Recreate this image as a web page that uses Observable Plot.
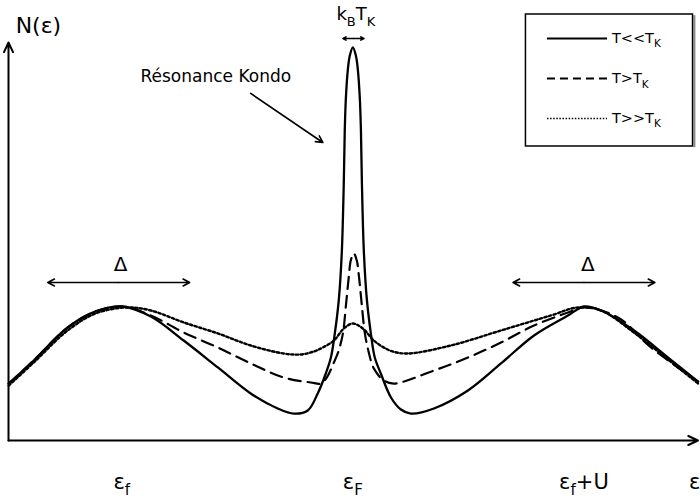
<!DOCTYPE html>
<html><head><meta charset="utf-8">
<script src="https://cdn.jsdelivr.net/npm/d3@7"></script>
<script src="https://cdn.jsdelivr.net/npm/@observablehq/plot@0.6"></script>
<style>body{margin:0;background:#fff}</style>
</head><body><div id="chart"></div>
<script>
// ---- data (energy in units where eps_f = -1, eps_F = 0, eps_f+U = 1) ----
const solidX = [-1.489,-1.381,-1.234,-1.113,-0.996,-0.874,-0.732,-0.584,-0.442,-0.325,-0.255,-0.195,-0.152,-0.117,-0.095,-0.078,-0.061,-0.048,-0.039,-0.035,-0.030,-0.022,-0.013,0,
  0.013,0.022,0.030,0.035,0.039,0.048,0.061,0.078,0.095,0.121,0.165,0.208,0.251,0.351,0.498,0.641,0.784,0.931,1.000,1.074,1.217,1.364,1.494];
const solidN = [0.425,0.597,0.843,0.963,1.000,0.925,0.746,0.545,0.351,0.239,0.201,0.224,0.351,0.500,0.619,0.799,1.045,1.396,1.940,2.313,2.560,2.761,2.873,2.933,
  2.873,2.761,2.560,2.313,1.940,1.396,1.045,0.799,0.619,0.500,0.321,0.231,0.201,0.239,0.373,0.575,0.784,0.933,1.000,0.970,0.821,0.619,0.440];

const dashedX = [-1.489,-1.381,-1.234,-1.113,-0.996,-0.874,-0.732,-0.584,-0.442,-0.299,-0.182,-0.139,-0.113,-0.082,-0.061,-0.043,-0.030,-0.017,-0.009,0.004,
  0.017,0.026,0.039,0.052,0.069,0.091,0.134,0.177,0.351,0.498,0.641,0.784,0.931,1.000,1.147,1.290,1.494];
const dashedN = [0.425,0.597,0.843,0.963,1.000,0.933,0.806,0.694,0.575,0.470,0.433,0.425,0.470,0.582,0.672,0.799,1.007,1.231,1.343,1.396,
  1.343,1.231,1.007,0.799,0.657,0.537,0.448,0.425,0.522,0.619,0.731,0.858,0.955,0.993,0.918,0.694,0.440];

const dottedX = [-1.489,-1.381,-1.234,-1.113,-0.974,-0.874,-0.732,-0.584,-0.442,-0.299,-0.225,-0.169,-0.130,-0.082,-0.039,0,
  0.043,0.091,0.134,0.173,0.238,0.424,0.641,0.857,0.974,1.074,1.216,1.364,1.494];
const dottedN = [0.410,0.582,0.821,0.948,0.993,0.970,0.881,0.799,0.709,0.649,0.642,0.664,0.694,0.746,0.836,0.873,
  0.836,0.746,0.694,0.664,0.649,0.709,0.821,0.933,0.993,0.970,0.806,0.604,0.425];

const tickValues = [-1, 0, 1];
const tickLabels = ["ε_f", "ε_F", "ε_f+U"];
const legendLabels = ["T<<T_K", "T>T_K", "T>>T_K"];

// ---- layout (data units) ----
const X0 = -1.49, X1 = 1.5, YMAX = 2.97;
const rows = (xs, ns) => xs.map((x, i) => ({x, n: ns[i]}));
const solid = rows(solidX, solidN), dashed = rows(dashedX, dashedN), dotted = rows(dottedX, dottedN);

const legendBox = {x1: 0.749, x2: 1.472, y1: 2.194, y2: 3.179};
const legendRowY = [3.0, 2.701, 2.403];
const legendLine = {x1: 0.840, x2: 1.100};
const legendTextX = 1.121;
const legendDash = [null, "8,5", "1.5,1.6"];
const legendWidth = [2, 2, 1.6];

const doubleArrows = [
  {xa: -1.320, xb: -0.706, y: 1.179},
  {xa: 0.693, xb: 1.307, y: 1.179},
  {xa: -0.043, xb: 0.048, y: 3.0}
];
const arrowSegs = [];
doubleArrows.forEach(d => {
  const m = (d.xa + d.xb) / 2;
  arrowSegs.push({x1: m, y1: d.y, x2: d.xa, y2: d.y, h: d.xb - d.xa < 0.2 ? 5 : 7});
  arrowSegs.push({x1: m, y1: d.y, x2: d.xb, y2: d.y, h: d.xb - d.xa < 0.2 ? 5 : 7});
});
arrowSegs.push({x1: -0.442, y1: 2.590, x2: -0.130, y2: 2.224, h: 7});

const axes = [
  {x1: X0, y1: 0, x2: X0, y2: YMAX},
  {x1: X0, y1: 0, x2: 1.4935, y2: 0}
];

const texts = [
  {x: -1.459, y: 3.09, t: "N(ε)", size: 22, anchor: "start"},
  {x: 0.013, y: 3.179, t: "k_BT_K", size: 18, anchor: "middle"},
  {x: -0.593, y: 2.719, t: "Résonance Kondo", size: 17, anchor: "middle"},
  {x: -1.005, y: 1.316, t: "Δ", size: 20, anchor: "middle"},
  {x: 1.017, y: 1.316, t: "Δ", size: 20, anchor: "middle"},
  {x: 1.455, y: -0.308, t: "ε", size: 21, anchor: "start"}
];
const tickRows = tickValues.map((v, i) => ({x: v, y: -0.308, t: tickLabels[i]}));

const curve = "catmull-rom";
const marks = [
  Plot.line(dotted, {x: "x", y: "n", curve, stroke: "black", strokeWidth: 2.4, strokeDasharray: "2.4,2.4"}),
  Plot.line(dashed, {x: "x", y: "n", curve, stroke: "black", strokeWidth: 2.2, strokeDasharray: "12,7"}),
  Plot.line(solid, {x: "x", y: "n", curve, stroke: "black", strokeWidth: 2.3}),
  Plot.arrow(axes, {x1: "x1", y1: "y1", x2: "x2", y2: "y2", stroke: "black", strokeWidth: 2, headLength: 8, headAngle: 50}),
  ...["sm", "big"].map(k => Plot.arrow(arrowSegs.filter(d => (k === "sm") === (d.h === 5)),
     {x1: "x1", y1: "y1", x2: "x2", y2: "y2", stroke: "black", strokeWidth: 1.6, headLength: k === "sm" ? 5 : 7, headAngle: 55})),
  Plot.text(tickRows, {x: "x", y: "y", text: "t", fontSize: 21, textAnchor: "middle", fill: "black"}),
  ...texts.map(d => Plot.text([d], {x: "x", y: "y", text: "t", fontSize: d.size, textAnchor: d.anchor, fill: "black"})),
  // legend
  Plot.ruleX([{x: 1.478}], {x: "x", y1: 2.185, y2: 3.17, stroke: "#8a8a8a", strokeWidth: 2}),
  Plot.rect([legendBox], {x1: "x1", x2: "x2", y1: "y1", y2: "y2", fill: "white", stroke: "black", strokeWidth: 1.5}),
  ...legendRowY.map((y, i) => Plot.link([{y}], {x1: () => legendLine.x1, x2: () => legendLine.x2, y1: "y", y2: "y",
     stroke: "black", strokeWidth: legendWidth[i], strokeDasharray: legendDash[i] || undefined})),
  Plot.text(legendLabels.map((t, i) => ({t, y: legendRowY[i]})), {x: () => legendTextX, y: "y", text: "t", fontSize: 14.5, textAnchor: "start", fill: "black"})
];

const plot = Plot.plot({
  width: 700, height: 499,
  marginLeft: 8, marginRight: 1, marginTop: 42, marginBottom: 59,
  x: {domain: [X0, X1], axis: null},
  y: {domain: [0, YMAX], axis: null},
  style: {fontFamily: "DejaVu Sans", background: "white", color: "black", overflow: "visible"},
  marks
});
document.getElementById("chart").appendChild(plot);

// subscripts: "a_b" -> a with subscript b
plot.querySelectorAll("text").forEach(t => {
  const s = t.textContent;
  if (!s.includes("_")) return;
  const fs = parseFloat(getComputedStyle(t).fontSize) || 14;
  while (t.firstChild) t.removeChild(t.firstChild);
  const parts = s.split(/_(.)/);
  let off = 0;
  const NS = "http://www.w3.org/2000/svg";
  parts.forEach((p, i) => {
    if (p === "") return;
    const ts = document.createElementNS(NS, "tspan");
    ts.textContent = p;
    ts.setAttribute("fill", "black");
    if (i % 2 === 1) {
      const shift = 0.3 * fs;
      ts.setAttribute("font-size", (0.72 * fs).toFixed(1));
      ts.setAttribute("dy", (shift - off).toFixed(1));
      off = shift;
    } else {
      ts.setAttribute("dy", (-off).toFixed(1));
      off = 0;
    }
    t.appendChild(ts);
  });
});
</script>
</body></html>
